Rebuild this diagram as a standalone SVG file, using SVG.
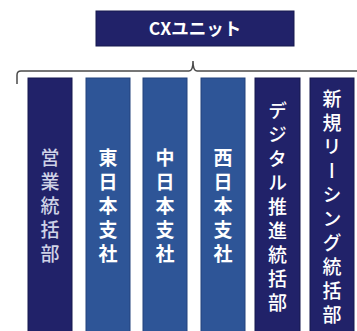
<svg xmlns="http://www.w3.org/2000/svg" width="357" height="331" viewBox="0 0 357 331">
<style>
.navy{fill:#212269;stroke:#17184f;stroke-width:1}
.blue{fill:#2e5597;stroke:#22437c;stroke-width:1}
.vt{font-family:"Noto Sans CJK JP","Noto Sans",sans-serif;font-size:19px;writing-mode:vertical-rl;text-anchor:middle;letter-spacing:5px;font-weight:500}
.w{fill:#ffffff}
.g{fill:#cfd2e6}
.b{font-weight:700}
</style>
<rect width="357" height="331" fill="#ffffff"/>
<g id="cx-unit">
<rect x="96" y="11" width="198" height="35" class="navy"/>
<text x="195" y="35" font-family="'Noto Sans CJK JP','Noto Sans',sans-serif" font-size="17.5" font-weight="700" fill="#ffffff" text-anchor="middle">CXユニット</text>
</g>
<g id="connectors">
<path d="M17,84 V75 Q17,71 21,71 H189 Q193,71 193,61 Q193,71 197,71 H360" fill="none" stroke="#4a4a4a" stroke-width="1.5"/>
</g>
<g id="sales">
<rect x="28" y="78" width="44" height="260" class="navy"/>
<text x="50" y="208" class="vt g">営業統括部</text>
</g>
<g id="east">
<rect x="86" y="78" width="44" height="260" class="blue"/>
<text x="108" y="208" class="vt w b">東日本支社</text>
</g>
<g id="central">
<rect x="143" y="78" width="44" height="260" class="blue"/>
<text x="165" y="208" class="vt w b">中日本支社</text>
</g>
<g id="west">
<rect x="201" y="78" width="44" height="260" class="blue"/>
<text x="223" y="208" class="vt w b">西日本支社</text>
</g>
<g id="digital">
<rect x="255" y="78" width="45" height="260" class="navy"/>
<text x="277.5" y="209" class="vt w">デジタル推進統括部</text>
</g>
<g id="leasing">
<rect x="310" y="78" width="44" height="260" class="navy"/>
<text x="332" y="209" class="vt w">新規リーシング統括部</text>
</g>
</svg>
